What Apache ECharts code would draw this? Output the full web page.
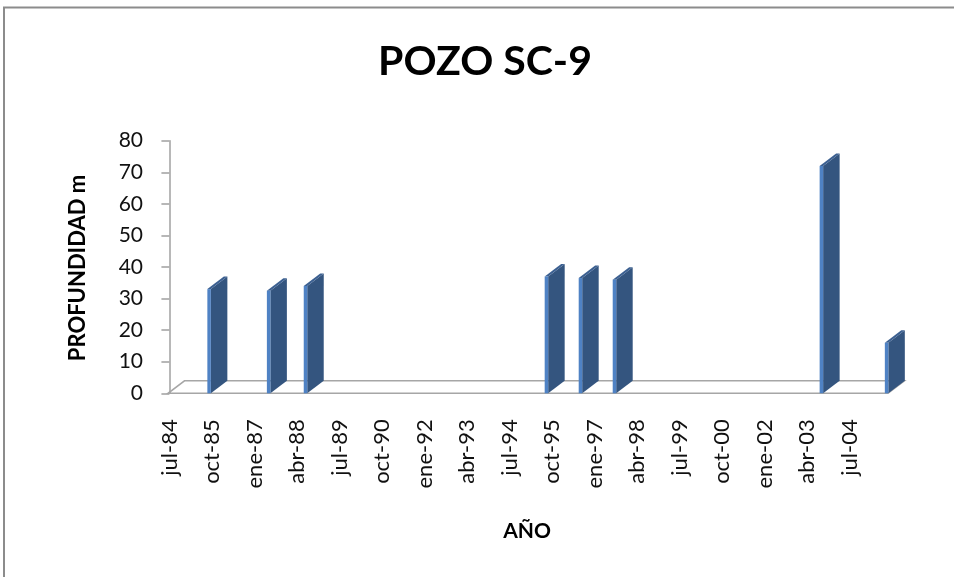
<!DOCTYPE html>
<html>
<head>
<meta charset="utf-8">
<script src="https://cdn.jsdelivr.net/npm/echarts@6/dist/echarts.min.js"></script>
<style>
html,body{margin:0;padding:0;background:#fff;}
#chart{width:954px;height:577px;}
</style>
</head>
<body>
<div id="chart"></div>
<script>
// ---- data ----
const chartTitle = 'POZO SC-9';
const yAxisTitle = 'PROFUNDIDAD m';
const xAxisTitle = 'AÑO';
const tickLabels = ['jul-84','oct-85','ene-87','abr-88','jul-89','oct-90','ene-92','abr-93','jul-94','oct-95','ene-97','abr-98','jul-99','oct-00','ene-02','abr-03','jul-04'];
const tickStepMonths = 15;
const sampleDates = ['1985-09','1987-06','1988-07','1995-08','1996-08','1997-08','2003-09','2005-08'];
const depthValues = [33, 32.5, 34, 37, 36.5, 36, 72, 16];
const axisStart = '1984-07';
const axisEnd = '2005-08';

function monthIndex(s) {
  const [y, m] = s.split('-').map(Number);
  const [y0, m0] = axisStart.split('-').map(Number);
  return (y - y0) * 12 + (m - m0);
}

const barData = sampleDates.map((d, i) => [monthIndex(d), depthValues[i]]);
const xMin = -0.5;
const xMax = monthIndex(axisEnd) + 0.5;
const tickValues = tickLabels.map((_, i) => i * tickStepMonths);

const DX = 16.5, DY = -12.5;   // 3D depth offset
const FONT = 'Lato';

const chart = echarts.init(document.getElementById('chart'));
chart.setOption({
  backgroundColor: '#ffffff',
  animation: false,
  grid: { left: 168, right: 66, top: 140.7, bottom: 183.7, containLabel: false, outerBoundsMode: 'none' },
  xAxis: {
    type: 'value', min: xMin, max: xMax,
    axisLine: { show: false }, axisTick: { show: false, customValues: tickValues }, splitLine: { show: false },
    axisLabel: {
      customValues: tickValues,
      formatter: v => tickLabels[Math.round(v / tickStepMonths)],
      rotate: 90, margin: 26, fontSize: 22, fontFamily: FONT, color: '#111'
    }
  },
  yAxis: {
    type: 'value', min: 0, max: 80, interval: 10,
    axisLine: { show: true, lineStyle: { color: '#a0a0a0', width: 1.5 } },
    axisTick: { show: true, length: 8, lineStyle: { color: '#a0a0a0', width: 1.5 } },
    splitLine: { show: false },
    axisLabel: { margin: 25, fontSize: 21, fontFamily: FONT, color: '#111' }
  },
  graphic: [
    { type: 'rect', shape: { x: 4, y: 7.5, width: 1200, height: 1000 }, style: { fill: 'none', stroke: '#8c8c8c', lineWidth: 2 }, z: 0 },
    { type: 'text', x: 485, y: 62, style: { text: chartTitle, font: 'bold 41px ' + FONT, fill: '#000', textAlign: 'center', textVerticalAlign: 'middle' } },
    { type: 'text', x: 78, y: 268, rotation: Math.PI / 2, style: { text: yAxisTitle, font: 'bold 22px ' + FONT, fill: '#000', textAlign: 'center', textVerticalAlign: 'middle' } },
    { type: 'text', x: 527, y: 531, style: { text: xAxisTitle, font: 'bold 21px ' + FONT, fill: '#000', textAlign: 'center', textVerticalAlign: 'middle' } }
  ],
  series: [
    {
      type: 'custom', name: 'floor', z: 1, clip: false, silent: true,
      data: [[xMin, 0]],
      renderItem: function (params, api) {
        const a = api.coord([xMin, 0]);
        const b = api.coord([xMax, 0]);
        return {
          type: 'polygon',
          shape: { points: [[a[0], a[1]], [b[0], b[1]], [b[0] + DX, b[1] + DY], [a[0] + DX, a[1] + DY]] },
          style: { fill: 'none', stroke: '#a6a6a6', lineWidth: 1.5 }
        };
      }
    },
    {
      type: 'custom', name: 'Profundidad', z: 2, clip: false,
      data: barData,
      renderItem: function (params, api) {
        const top = api.coord([api.value(0), api.value(1)]);
        const base = api.coord([api.value(0), 0]);
        const w = 3.5;
        const x0 = top[0] - w / 2, x1 = x0 + w;
        const yt = top[1], yb = base[1];
        return {
          type: 'group',
          children: [
            { type: 'polygon', shape: { points: [[x1, yt], [x1 + DX, yt + DY], [x1 + DX, yb + DY], [x1, yb]] }, style: { fill: '#34557f' } },
            { type: 'polygon', shape: { points: [[x0, yt], [x1, yt], [x1 + DX, yt + DY], [x0 + DX, yt + DY]] }, style: { fill: '#3c6091' } },
            { type: 'rect', shape: { x: x0, y: yt, width: w, height: yb - yt }, style: { fill: '#4f82c4' } }
          ]
        };
      }
    }
  ]
});
</script>
</body>
</html>
